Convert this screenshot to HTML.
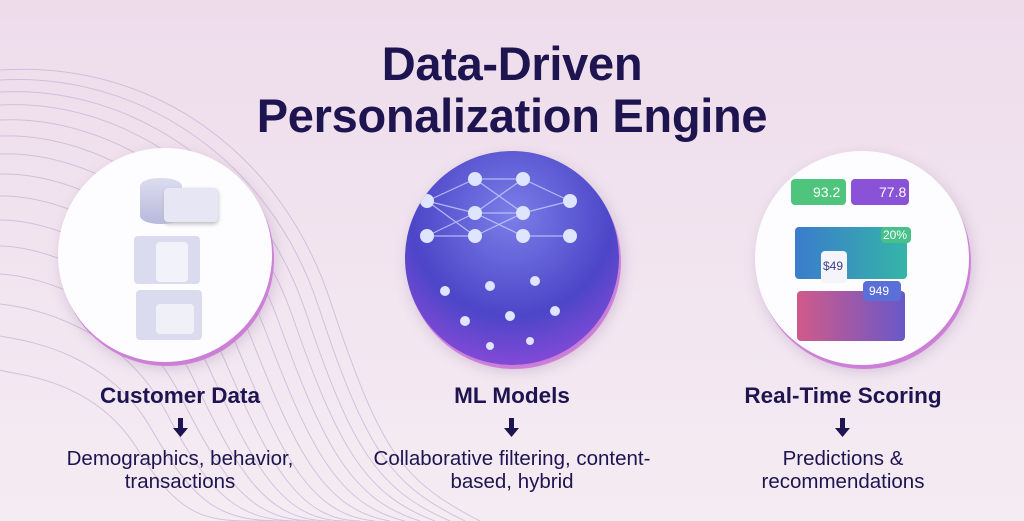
<!DOCTYPE html>
<html><head><style>
body{margin:0;width:1024px;height:521px;overflow:hidden;font-family:"Liberation Sans",sans-serif;}
.bg{position:absolute;left:0;top:0;width:1024px;height:521px;background:linear-gradient(180deg,#eedceb 0%,#f2e6f0 60%,#f4ecf3 100%);}
.t{position:absolute;left:0;width:1024px;text-align:center;color:#1d1450;font-weight:bold;font-size:47px;letter-spacing:-0.3px}
.c{position:absolute;width:214px;height:214px;border-radius:50%;background:#fdfcfe;box-shadow:3px 6px 14px rgba(120,80,140,.25),2px 4px 0 #e08ae8;overflow:hidden}
.h{position:absolute;width:340px;text-align:center;color:#1d1450;font-weight:bold;font-size:22.5px}
.a{position:absolute;width:340px;text-align:center}
.d{position:absolute;width:340px;text-align:center;color:#1d1450;font-size:20.5px;line-height:23px}
.r{position:absolute;border-radius:4px}
</style></head><body>
<div class="bg"></div>
<svg style="position:absolute;left:0;top:0" width="1024" height="521">
<g fill="none" stroke="#c9b8d8" stroke-width="1" opacity=".8">
<path d="M0 70 C150 60 280 150 330 300 S400 480 480 521"/>
<path d="M0 80 C140 72 270 160 318 305 S390 485 465 521"/>
<path d="M0 92 C130 85 258 170 305 310 S378 490 450 521"/>
<path d="M0 105 C120 98 245 180 292 315 S366 495 435 521"/>
<path d="M0 120 C110 115 232 192 278 320 S352 500 420 521"/>
<path d="M0 136 C100 132 218 205 264 327 S338 505 405 521"/>
<path d="M0 154 C90 150 204 218 250 335 S324 510 390 521"/>
<path d="M0 174 C80 172 190 232 236 344 S310 515 375 521"/>
<path d="M0 196 C70 195 176 248 222 354 S296 520 360 521"/>
<path d="M0 220 C60 220 162 265 208 366 S282 521 345 521"/>
<path d="M0 246 C50 247 148 283 194 380 S268 521 330 521"/>
<path d="M0 274 C40 276 134 303 180 395 S254 521 315 521"/>
<path d="M0 304 C30 307 120 325 166 412 S240 521 300 521"/>
<path d="M0 336 C20 340 106 349 152 430 S226 521 285 521"/>
<path d="M0 370 C10 375 92 375 138 450 S212 521 270 521"/>
</g></svg>
<div class="t" style="top:36px">Data-Driven</div>
<div class="t" style="top:88px">Personalization Engine</div>

<div class="c" style="left:58px;top:148px">
 <div class="r" style="left:82px;top:30px;width:42px;height:46px;background:linear-gradient(#dcdcf0,#b8b9dc);border-radius:20px/8px"></div>
 <div class="r" style="left:106px;top:40px;width:54px;height:34px;background:#e6e6f4;box-shadow:0 2px 4px #bbb"></div>
 <div class="r" style="left:76px;top:88px;width:66px;height:48px;background:#dadbee"></div>
 <div class="r" style="left:98px;top:94px;width:32px;height:40px;background:#f2f2fa"></div>
 <div class="r" style="left:78px;top:142px;width:66px;height:50px;background:#dadbee"></div>
 <div class="r" style="left:98px;top:156px;width:38px;height:30px;background:#f0f0f8"></div>
</div>
<div class="c" style="left:405px;top:151px;background:radial-gradient(circle at 50% 30%,#7c7ee8,#4c46c8 55%,#8a4ad8 85%,#c070e0)">
<svg width="214" height="214"><g fill="none" stroke="#c8d0ff" stroke-width="1.2" opacity=".8">
<path d="M22 50 L70 28 L118 28 L165 50 M22 50 L70 62 L118 62 L165 50 M22 85 L70 62 L118 85 L165 85 M70 28 L118 62 M118 28 L70 62 M70 62 L118 85 M70 85 L118 62 M22 50 L70 85 M22 85 L70 85"/></g>
<g fill="#dfe4ff"><circle cx="22" cy="50" r="7"/><circle cx="70" cy="28" r="7"/><circle cx="118" cy="28" r="7"/><circle cx="165" cy="50" r="7"/><circle cx="70" cy="62" r="7"/><circle cx="118" cy="62" r="7"/><circle cx="22" cy="85" r="7"/><circle cx="70" cy="85" r="7"/><circle cx="118" cy="85" r="7"/><circle cx="165" cy="85" r="7"/>
<circle cx="40" cy="140" r="5"/><circle cx="85" cy="135" r="5"/><circle cx="130" cy="130" r="5"/><circle cx="60" cy="170" r="5"/><circle cx="105" cy="165" r="5"/><circle cx="150" cy="160" r="5"/><circle cx="85" cy="195" r="4"/><circle cx="125" cy="190" r="4"/></g></svg>
</div>
<div class="c" style="left:755px;top:151px">
 <div class="r" style="left:36px;top:28px;width:55px;height:26px;background:#4fc47c"></div>
 <div style="position:absolute;left:58px;top:33px;color:#fff;font-size:14px">93.2</div>
 <div class="r" style="left:96px;top:28px;width:58px;height:26px;background:#8a52d6"></div>
 <div style="position:absolute;left:124px;top:33px;color:#fff;font-size:14px">77.8</div>
 <div class="r" style="left:40px;top:76px;width:112px;height:52px;background:linear-gradient(90deg,#3a7ccc,#35b5a8)"></div>
 <div class="r" style="left:66px;top:100px;width:26px;height:32px;background:#f4f4fa"></div>
 <div style="position:absolute;left:68px;top:108px;color:#3a3f8a;font-size:12px">$49</div>
 <div class="r" style="left:126px;top:76px;width:30px;height:16px;background:#47c08a"></div>
 <div style="position:absolute;left:128px;top:77px;color:#fff;font-size:12px">20%</div>
 <div class="r" style="left:42px;top:140px;width:108px;height:50px;background:linear-gradient(90deg,#d05a8a,#6a58c8)"></div>
 <div class="r" style="left:108px;top:130px;width:38px;height:20px;background:#5a70d8"></div>
 <div style="position:absolute;left:114px;top:133px;color:#fff;font-size:12px">949</div>
</div>

<svg style="position:absolute;left:0;top:0" width="1024" height="521"><g fill="#1d1450">
<path d="M178 418h5v10h5l-7.5 9-7.5-9h5z"/>
<path d="M509 418h5v10h5l-7.5 9-7.5-9h5z"/>
<path d="M840 418h5v10h5l-7.5 9-7.5-9h5z"/>
</g></svg>
<div class="h" style="left:10px;top:383px">Customer Data</div>
<div class="d" style="left:10px;top:447px">Demographics, behavior,<br>transactions</div>
<div class="h" style="left:342px;top:383px">ML Models</div>
<div class="d" style="left:342px;top:447px">Collaborative filtering, content-<br>based, hybrid</div>
<div class="h" style="left:673px;top:383px">Real-Time Scoring</div>
<div class="d" style="left:673px;top:447px">Predictions &amp;<br>recommendations</div>
</body></html>
